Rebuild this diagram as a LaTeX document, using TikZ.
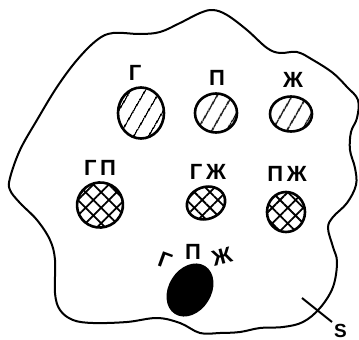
\documentclass[tikz,border=0pt]{standalone}
\usepackage{fontspec}
\setmainfont{Liberation Sans}
\usetikzlibrary{shapes.geometric,patterns.meta}
\begin{document}
\begin{tikzpicture}[x=1pt,y=-1pt,
  lbl/.style={font=\fontsize{22}{22}\selectfont\bfseries, inner sep=0pt},
  spot/.style={draw, ellipse, line width=2.6pt, inner sep=0pt},
  onefold/.style={spot, pattern={Lines[angle=60,distance=13pt,line width=1.6pt]}},
  twofold/.style={spot, pattern={Hatch[angle=45,distance=11pt,line width=1.8pt]}},
  threefold/.style={spot, fill=black}]
\useasboundingbox (0,0) rectangle (359,340);
% outline of the area S
\draw[line width=2pt] plot[smooth cycle, tension=0.6] coordinates {
  (113,33) (140,34) (160,32) (180,23) (200,13) (213,10) (227,15) (247,30)
  (267,48) (280,53) (297,52) (313,60) (333,73) (347,87) (358,100) (357,118)
  (351,132) (350,150) (355,168) (356,185) (347,203) (333,217) (328,228)
  (333,247) (337,262) (333,287) (320,308) (303,322) (283,327) (260,328)
  (240,332) (220,333) (200,333) (180,323) (157,318) (127,322) (93,323)
  (73,320) (60,310) (55,293) (55,260) (50,240) (37,220) (20,203) (10,190)
  (10,178) (20,150) (37,120) (57,87) (77,60) (97,40)};
% single spots
\node[onefold, minimum width=46pt, minimum height=51pt] (g) at (141,113) {};
\node[onefold, minimum width=42pt, minimum height=39pt] (p) at (216,113) {};
\node[onefold, minimum width=42pt, minimum height=35pt] (zh) at (291,114) {};
\node[lbl] (gl) at (135,73) {Г};
\node[lbl] (pl) at (217,78) {П};
\node[lbl] (zhl) at (293,80) {Ж};
% double spots
\node[twofold, minimum width=46pt, minimum height=45pt, rotate=15] (gp) at (100,205) {};
\node[twofold, minimum width=39pt, minimum height=32pt, rotate=20] (gzh) at (206,203) {};
\node[twofold, minimum width=38pt, minimum height=40pt] (pzh) at (286,212) {};
\node[lbl] (gpl) at (100,168) {Г\,П};
\node[lbl] (gzhl) at (208,172) {Г\,Ж};
\node[lbl] (pzhl) at (287,174) {П\,Ж};
% triple spot
\node[threefold, minimum width=54pt, minimum height=40pt, rotate=58] (gpzh) at (190,290) {};
\node[lbl, rotate=-20] (g3) at (165,261) {Г};
\node[lbl] (p3) at (193,252) {П};
\node[lbl, rotate=15] (zh3) at (222,257) {Ж};
% mark of S
\coordinate (sa) at (302,298);
\coordinate (sb) at (332,322);
\draw[line width=2pt] (sa) -- (sb) node[lbl, font=\fontsize{19}{19}\selectfont\bfseries, anchor=north west, inner sep=1pt] (s) {S};
\end{tikzpicture}
\end{document}
